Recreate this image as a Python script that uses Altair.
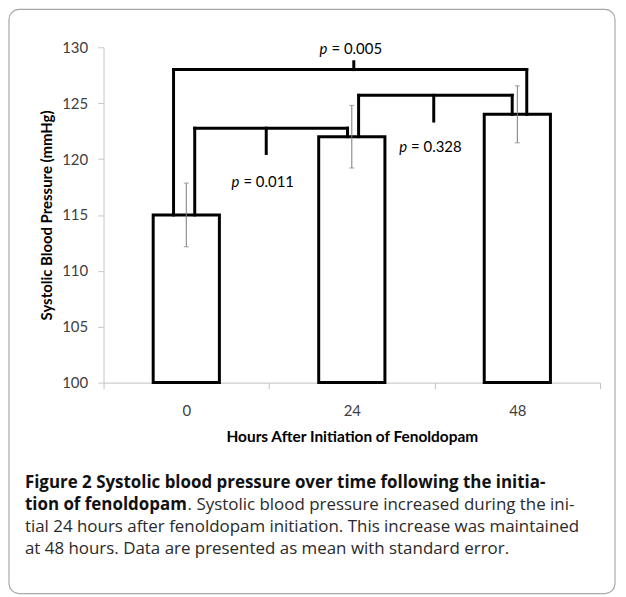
import altair as alt
import pandas as pd

# ---- data ----
hours = ["0", "24", "48"]
means = [115.0, 122.0, 124.0]
sems = [2.85, 2.8, 2.55]

pair_left = [0, 1, 0]
pair_right = [1, 2, 2]
p_values = ["0.011", "0.328", "0.005"]
bracket_top = [122.76, 125.7, 128.0]
tick_end = [120.5, 123.4, 128.7]
label_y = [117.9, 121.1, 129.8]

# ---- layout of the brackets (in band units) ----
left_off = [0.051, 0.041, -0.077]
right_off = [-0.026, -0.031, 0.057]
tick_x = [0.983, 1.995, 1.512]
label_x = [0.821, 1.834, 1.353]

bars_df = pd.DataFrame({
    "hours": hours,
    "mean": means,
    "lo": [m - s for m, s in zip(means, sems)],
    "hi": [m + s for m, s in zip(means, sems)],
    "pos": [i + 0.5 for i in range(len(hours))],
})

seg_rows = []
for i in range(len(p_values)):
    L, R = pair_left[i], pair_right[i]
    xl = L + 0.5 + left_off[i]
    xr = R + 0.5 + right_off[i]
    h = bracket_top[i]
    seg_rows.append({"x": xl, "x2": xl, "y": means[L], "y2": h})
    seg_rows.append({"x": xl, "x2": xr, "y": h, "y2": h})
    seg_rows.append({"x": xr, "x2": xr, "y": h, "y2": means[R]})
    seg_rows.append({"x": tick_x[i], "x2": tick_x[i], "y": h, "y2": tick_end[i]})
seg_df = pd.DataFrame(seg_rows)

lab_df = pd.DataFrame({
    "x": label_x,
    "y": label_y,
    "rest": ["= " + p for p in p_values],
})

FONT = "Lato"
CAPFONT = "Open Sans"
YTITLE = "Systolic Blood Pressure (mmHg)"
yscale = alt.Scale(domain=[100, 130], nice=False, zero=False)
yaxis = alt.Axis(
    values=list(range(100, 131, 5)), grid=False,
    domainColor="#c8c8c8", tickColor="#c8c8c8", tickSize=6, labelPadding=10,
    labelFont=FONT, labelFontSize=15, labelColor="#404040",
    titleFont=FONT, titleFontSize=15, titleFontWeight="bold", titleColor="black",
    titlePadding=7, title=YTITLE,
)
qscale = alt.Scale(domain=[0, 3], nice=False, zero=False)

one = pd.DataFrame({"a": [0]})

box = alt.Chart(one).mark_rect(
    fill="white", fillOpacity=0, stroke="#a8a8a8", strokeWidth=1.2, cornerRadius=10
).encode(x=alt.value(-95), x2=alt.value(514), y=alt.value(-38), y2=alt.value(549))

bars = alt.Chart(bars_df).mark_bar(
    width=alt.RelativeBandSize(0.4), fill="white", stroke="black", strokeWidth=3
).encode(
    x=alt.X("hours:N", sort=hours,
            scale=alt.Scale(paddingInner=0, paddingOuter=0),
            axis=alt.Axis(
                title="Hours After Initiation of Fenoldopam", tickBand="extent",
                labelAngle=0, grid=False, domainColor="#c0c0c0", tickColor="#c0c0c0",
                tickSize=6, labelPadding=15, labelFont=FONT, labelFontSize=15,
                labelColor="#404040", titleFont=FONT, titleFontSize=15.5,
                titleFontWeight="bold", titleColor="black", titlePadding=11)),
    y=alt.Y("mean:Q", scale=yscale, axis=yaxis),
    y2=alt.datum(100),
)

err_rule = alt.Chart(bars_df).mark_rule(color="#7a7a7a", strokeWidth=1).encode(
    x=alt.X("pos:Q", scale=qscale, axis=None),
    y=alt.Y("lo:Q", scale=yscale, axis=yaxis),
    y2="hi:Q",
)
err_cap_hi = alt.Chart(bars_df).mark_tick(
    color="#7a7a7a", orient="horizontal", size=5, thickness=1
).encode(
    x=alt.X("pos:Q", scale=qscale, axis=None),
    y=alt.Y("hi:Q", scale=yscale, axis=yaxis),
)
err_cap_lo = alt.Chart(bars_df).mark_tick(
    color="#7a7a7a", orient="horizontal", size=5, thickness=1
).encode(
    x=alt.X("pos:Q", scale=qscale, axis=None),
    y=alt.Y("lo:Q", scale=yscale, axis=yaxis),
)

brackets = alt.Chart(seg_df).mark_rule(
    color="black", strokeWidth=3, strokeCap="square"
).encode(
    x=alt.X("x:Q", scale=qscale, axis=None),
    x2="x2:Q",
    y=alt.Y("y:Q", scale=yscale, axis=yaxis),
    y2="y2:Q",
)

p_text = alt.Chart(lab_df).mark_text(
    align="right", baseline="middle", font=FONT, fontSize=15,
    fontStyle="italic", color="black"
).encode(
    x=alt.X("x:Q", scale=qscale, axis=None),
    y=alt.Y("y:Q", scale=yscale, axis=yaxis),
    text=alt.value("p"),
)
v_text = alt.Chart(lab_df).mark_text(
    align="left", baseline="middle", font=FONT, fontSize=15, color="black", dx=4
).encode(
    x=alt.X("x:Q", scale=qscale, axis=None),
    y=alt.Y("y:Q", scale=yscale, axis=yaxis),
    text="rest:N",
)

CAP_X = -79
CAP_SIZE = 17
def cap(text, x, y, bold):
    return alt.Chart(one).mark_text(
        align="left", baseline="middle", font=CAPFONT, fontSize=CAP_SIZE,
        fontWeight="bold" if bold else "normal",
        color="#111111" if bold else "#2a2a2a"
    ).encode(x=alt.value(x), y=alt.value(y), text=alt.value(text))

captions = [
    cap("Figure 2 Systolic blood pressure over time following the initia-", CAP_X, 438, True),
    cap("tion of fenoldopam", CAP_X, 460, True),
    cap(". Systolic blood pressure increased during the ini-", 84.5, 460, False),
    cap("tial 24 hours after fenoldopam initiation. This increase was maintained", CAP_X, 482, False),
    cap("at 48 hours. Data are presented as mean with standard error.", CAP_X, 504, False),
]

chart = alt.layer(
    box, bars, brackets, err_rule, err_cap_hi, err_cap_lo, p_text, v_text, *captions
).resolve_scale(x="independent").properties(
    width=499, height=337,
    autosize=alt.AutoSizeParams(type="none"),
    padding={"left": 96, "top": 38, "right": 18, "bottom": 214},
).configure_view(stroke=None)

chart.save("out.html", embed_options={"renderer": "svg", "actions": False})
